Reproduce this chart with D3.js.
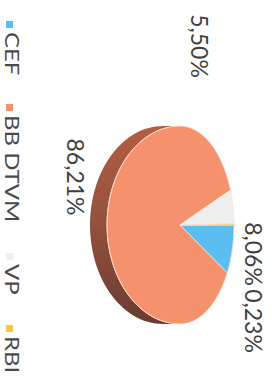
<!DOCTYPE html>
<html><head><meta charset="utf-8">
<script src="https://cdn.jsdelivr.net/npm/d3@7"></script>
<style>html,body{margin:0;padding:0;background:#fff;}svg{display:block;}</style>
</head><body>
<script>
const categories = ["CEF", "BB DTVM", "VP", "RBI"];
const values = [8.06, 86.21, 5.50, 0.23];
const valueLabels = ["8,06%", "86,21%", "5,50%", "0,23%"];

const W = 272, H = 383;         // screen
const svg = d3.select("body").append("svg").attr("width", W).attr("height", H);
const g = svg.append("g").attr("transform", `translate(${W},0) rotate(90)`);

const color = d3.scaleOrdinal().domain(categories).range(["#5cbef0", "#f5916d", "#efefef", "#f4c84a"]);
const sideColor = d3.scaleOrdinal().domain(categories).range(["#2f7fa8", "#8c4a3a", "#b5b5b5", "#b08a20"]);

const cx = 225, cy = 92, rx = 99, ryFar = 54, ryNear = 73, depth = 17;
const pt = (a) => [cx + rx * Math.sin(a), cy - (Math.cos(a) > 0 ? ryFar : ryNear) * Math.cos(a)];
const arcPts = (a0, a1) => d3.range(0, 61).map(i => pt(a0 + (a1 - a0) * i / 60));

const arcs = d3.pie().sort(null).value(d => d)(values);

const defs = svg.append("defs");
const grad = defs.append("linearGradient").attr("id", "side").attr("gradientUnits", "userSpaceOnUse")
  .attr("x1", cx - rx).attr("x2", cx + rx).attr("y1", 0).attr("y2", 0);
grad.append("stop").attr("offset", "0%").attr("stop-color", "#b35e42");
grad.append("stop").attr("offset", "50%").attr("stop-color", "#93503d");
grad.append("stop").attr("offset", "100%").attr("stop-color", "#6a3b31");

const line = d3.line();
arcs.forEach((a, i) => {
  const s = Math.max(a.startAngle, Math.PI / 2), e = Math.min(a.endAngle, 3 * Math.PI / 2);
  if (e <= s) return;
  const top = arcPts(s, e);
  const bot = top.map(p => [p[0], p[1] + depth]).reverse();
  g.append("path").attr("d", line(top.concat(bot)) + "Z")
    .attr("fill", categories[i] === "BB DTVM" ? "url(#side)" : sideColor(categories[i]));
});

arcs.forEach((a, i) => {
  const p = [[cx, cy]].concat(arcPts(a.startAngle, a.endAngle));
  g.append("path").attr("d", line(p) + "Z")
    .attr("fill", color(categories[i]))
    .attr("stroke", "#fbe3d6").attr("stroke-width", 0.8).attr("stroke-linejoin", "round");
});
g.append("path").attr("d", line(arcPts(Math.PI / 2 + 0.15, 3 * Math.PI / 2 - 0.15)))
  .attr("fill", "none").attr("stroke", "#fcd2bd").attr("stroke-width", 1);

const labelPos = [[cx + 29, 27], [cx - 48, 205], [cx - 179, 81], [cx + 96, 27]];
g.selectAll("text.lbl").data(valueLabels).join("text").attr("class", "lbl")
  .attr("x", (d, i) => labelPos[i][0]).attr("y", (d, i) => labelPos[i][1])
  .attr("text-anchor", "middle")
  .attr("font-family", "Lato, 'Open Sans', sans-serif").attr("font-size", 23)
  .attr("fill", "#404040").text(d => d);

const legX = [21, 104, 253, 325];
const lg = g.selectAll("g.leg").data(categories).join("g").attr("class", "leg")
  .attr("transform", (d, i) => `translate(${legX[i]},0)`);
lg.append("rect").attr("x", 0).attr("y", 259).attr("width", 7).attr("height", 7)
  .attr("fill", d => color(d));
lg.append("text").attr("transform", "translate(11,267) scale(1.2,1)")
  .attr("font-family", "Lato, 'Open Sans', sans-serif").attr("font-size", 20)
  .attr("fill", "#4a4a4a").text(d => d);
</script>
</body></html>
